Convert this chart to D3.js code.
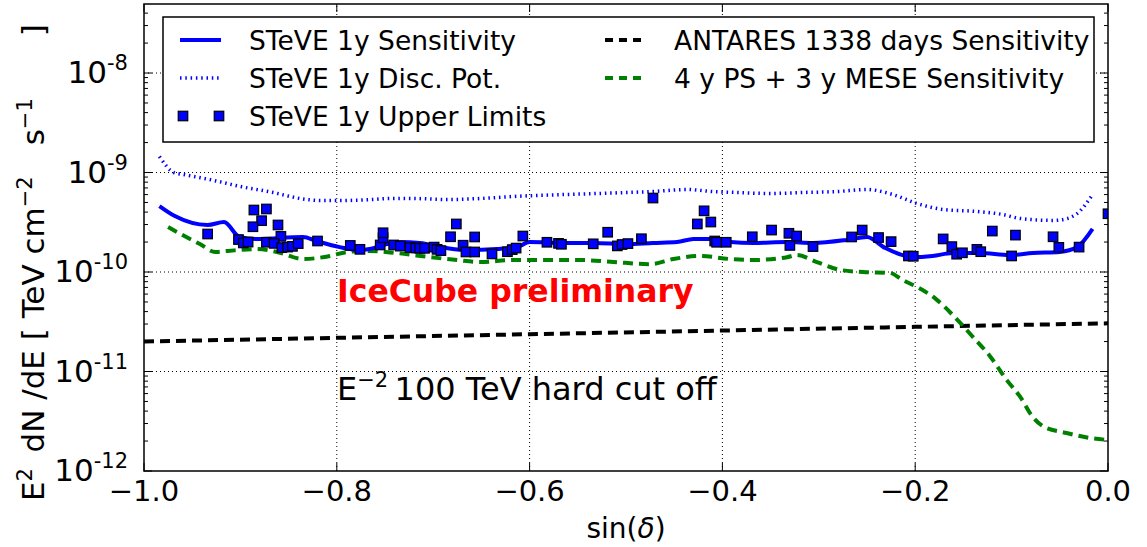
<!DOCTYPE html>
<html>
<head>
<meta charset="utf-8">
<script src="https://cdn.jsdelivr.net/npm/d3@7"></script>
<style>
  body { margin: 0; background: #fff; }
  svg { font-family: "DejaVu Sans", sans-serif; }
</style>
</head>
<body>
<div id="chart"></div>
<script>
// STeVE 1y sensitivity [sin(dec), E^2 dN/dE]
const sensitivity = [
  [-0.984, 4.6e-10], [-0.968, 3.65e-10], [-0.934, 2.97e-10], [-0.917, 3.18e-10], [-0.901, 2.25e-10],
  [-0.883, 2.15e-10], [-0.835, 2.25e-10], [-0.821, 2.05e-10], [-0.797, 1.78e-10], [-0.776, 1.66e-10],
  [-0.766, 1.70e-10], [-0.748, 1.91e-10], [-0.734, 2.00e-10], [-0.714, 1.96e-10], [-0.686, 1.74e-10],
  [-0.665, 1.66e-10], [-0.634, 1.70e-10], [-0.613, 1.78e-10], [-0.600, 2.00e-10], [-0.565, 1.96e-10],
  [-0.534, 1.96e-10], [-0.499, 1.91e-10], [-0.472, 1.96e-10], [-0.447, 2.00e-10], [-0.430, 2.15e-10],
  [-0.410, 2.15e-10], [-0.392, 2.00e-10], [-0.368, 1.96e-10], [-0.333, 2.00e-10], [-0.306, 1.96e-10],
  [-0.271, 2.10e-10], [-0.250, 2.25e-10], [-0.231, 1.74e-10], [-0.202, 1.41e-10], [-0.182, 1.45e-10],
  [-0.161, 1.55e-10], [-0.133, 1.55e-10], [-0.102, 1.48e-10], [-0.078, 1.55e-10], [-0.050, 1.59e-10],
  [-0.032, 1.78e-10], [-0.016, 2.71e-10]
];

// STeVE 1y discovery potential
const discPot = [
  [-0.984, 1.45e-9], [-0.969, 1.0e-9], [-0.959, 0.955e-9], [-0.927, 0.83e-9], [-0.899, 0.72e-9],
  [-0.866, 0.63e-9], [-0.838, 0.548e-9], [-0.817, 0.523e-9], [-0.797, 0.523e-9], [-0.763, 0.535e-9],
  [-0.745, 0.548e-9], [-0.721, 0.548e-9], [-0.686, 0.535e-9], [-0.651, 0.548e-9], [-0.617, 0.574e-9],
  [-0.565, 0.60e-9], [-0.530, 0.615e-9], [-0.499, 0.63e-9], [-0.473, 0.644e-9], [-0.437, 0.675e-9],
  [-0.410, 0.644e-9], [-0.385, 0.63e-9], [-0.351, 0.615e-9], [-0.316, 0.63e-9], [-0.281, 0.644e-9],
  [-0.250, 0.675e-9], [-0.223, 0.60e-9], [-0.198, 0.488e-9], [-0.171, 0.425e-9], [-0.136, 0.406e-9],
  [-0.109, 0.378e-9], [-0.091, 0.345e-9], [-0.057, 0.33e-9], [-0.042, 0.345e-9], [-0.032, 0.387e-9],
  [-0.016, 0.60e-9]
];

// STeVE 1y upper limits (per source)
const upperLimits = [
  [-0.934, 2.41e-10], [-0.886, 4.20e-10], [-0.873, 4.30e-10], [-0.878, 3.28e-10], [-0.887, 2.85e-10],
  [-0.861, 2.97e-10], [-0.858, 2.28e-10], [-0.902, 2.12e-10], [-0.897, 1.96e-10], [-0.892, 2.00e-10],
  [-0.873, 1.99e-10], [-0.865, 1.94e-10], [-0.857, 1.76e-10], [-0.851, 1.78e-10], [-0.846, 1.81e-10],
  [-0.840, 1.93e-10], [-0.820, 2.05e-10], [-0.786, 1.85e-10], [-0.776, 1.69e-10], [-0.755, 1.87e-10],
  [-0.752, 2.21e-10], [-0.752, 2.48e-10], [-0.741, 1.87e-10], [-0.734, 1.82e-10], [-0.724, 1.76e-10],
  [-0.718, 1.74e-10], [-0.714, 1.73e-10], [-0.709, 1.73e-10], [-0.699, 1.78e-10], [-0.696, 1.69e-10],
  [-0.692, 1.64e-10], [-0.682, 2.26e-10], [-0.676, 3.04e-10], [-0.669, 1.86e-10], [-0.666, 1.59e-10],
  [-0.657, 1.59e-10], [-0.657, 2.25e-10], [-0.639, 1.52e-10], [-0.623, 1.60e-10], [-0.618, 1.68e-10],
  [-0.614, 1.74e-10], [-0.607, 2.30e-10], [-0.582, 1.99e-10], [-0.570, 1.94e-10], [-0.567, 1.90e-10],
  [-0.534, 1.92e-10], [-0.519, 2.51e-10], [-0.509, 1.83e-10], [-0.504, 1.89e-10], [-0.498, 1.93e-10],
  [-0.484, 2.16e-10], [-0.472, 5.54e-10], [-0.426, 3.04e-10], [-0.419, 4.12e-10], [-0.412, 3.18e-10],
  [-0.408, 2.05e-10], [-0.406, 1.99e-10], [-0.396, 1.99e-10], [-0.369, 2.26e-10], [-0.349, 2.64e-10],
  [-0.331, 2.45e-10], [-0.330, 1.85e-10], [-0.323, 2.30e-10], [-0.306, 1.80e-10], [-0.266, 2.25e-10],
  [-0.255, 2.64e-10], [-0.238, 2.22e-10], [-0.225, 2.02e-10], [-0.207, 1.45e-10], [-0.202, 1.44e-10],
  [-0.171, 2.15e-10], [-0.162, 1.80e-10], [-0.157, 1.51e-10], [-0.151, 1.56e-10], [-0.136, 1.69e-10],
  [-0.132, 1.60e-10], [-0.120, 2.58e-10], [-0.100, 1.45e-10], [-0.096, 2.35e-10], [-0.057, 2.26e-10],
  [-0.051, 1.77e-10], [-0.030, 1.78e-10], [0.000, 3.85e-10]
];

// ANTARES 1338 days sensitivity
const antares = [
  [-1.0, 2.0e-11], [-0.8, 2.18e-11], [-0.6, 2.37e-11], [-0.4, 2.58e-11], [-0.2, 2.81e-11], [0.0, 3.05e-11]
];

// 4 y PS + 3 y MESE sensitivity
const psMese = [
  [-0.975, 2.83e-10], [-0.960, 2.35e-10], [-0.942, 1.91e-10], [-0.926, 1.59e-10], [-0.913, 1.63e-10],
  [-0.883, 1.70e-10], [-0.862, 1.59e-10], [-0.835, 1.35e-10], [-0.807, 1.45e-10], [-0.789, 1.59e-10],
  [-0.766, 1.63e-10], [-0.738, 1.55e-10], [-0.703, 1.41e-10], [-0.675, 1.32e-10], [-0.651, 1.26e-10],
  [-0.617, 1.32e-10], [-0.582, 1.32e-10], [-0.548, 1.32e-10], [-0.513, 1.26e-10], [-0.475, 1.20e-10],
  [-0.451, 1.35e-10], [-0.423, 1.45e-10], [-0.392, 1.35e-10], [-0.368, 1.32e-10], [-0.333, 1.41e-10],
  [-0.323, 1.48e-10], [-0.302, 1.26e-10], [-0.278, 1.05e-10], [-0.254, 1.0e-10], [-0.226, 0.977e-10],
  [-0.213, 0.83e-10], [-0.198, 0.707e-10], [-0.179, 0.54e-10], [-0.159, 0.353e-10], [-0.140, 0.222e-10],
  [-0.122, 1.41e-11], [-0.105, 0.82e-11], [-0.091, 0.555e-11], [-0.078, 0.349e-11], [-0.067, 0.28e-11],
  [-0.043, 0.241e-11], [-0.019, 0.215e-11], [0.000, 0.205e-11]
];

const xTicks = [-1.0, -0.8, -0.6, -0.4, -0.2, 0.0];
const yTickExp = [-12, -11, -10, -9, -8];

const width = 1147, height = 547;
const margin = { top: 4, right: 39, bottom: 76, left: 144 };

const svg = d3.select("#chart").append("svg")
  .attr("width", width)
  .attr("height", height);

const x = d3.scaleLinear()
  .domain([-1, 0])
  .range([margin.left, width - margin.right]);

const y = d3.scaleLog()
  .domain([1e-12, 4.94e-8])
  .range([height - margin.bottom, margin.top]);

const x0 = x.range()[0], x1 = x.range()[1];
const y0 = y.range()[0], y1 = y.range()[1];

svg.append("clipPath").attr("id", "plot-clip")
  .append("rect")
  .attr("x", x0).attr("y", y1)
  .attr("width", x1 - x0).attr("height", y0 - y1);

// grid
const grid = svg.append("g")
  .attr("stroke", "#000")
  .attr("stroke-width", 1)
  .attr("stroke-dasharray", "1,3");
grid.selectAll(".gx").data(xTicks.slice(1, -1)).enter().append("line")
  .attr("x1", d => x(d)).attr("x2", d => x(d))
  .attr("y1", y0).attr("y2", y1);
grid.selectAll(".gy").data(yTickExp.slice(1)).enter().append("line")
  .attr("x1", x0).attr("x2", x1)
  .attr("y1", d => y(Math.pow(10, d))).attr("y2", d => y(Math.pow(10, d)));

// ticks, inward on all four sides
const minorVals = [];
for (let e = -12; e <= -8; e++) {
  for (let m = 2; m <= 9; m++) {
    const v = m * Math.pow(10, e);
    if (v < y.domain()[1]) minorVals.push(v);
  }
}
const ticks = svg.append("g").attr("stroke", "#000").attr("stroke-width", 1);
[x0, x1].forEach((xe, i) => {
  const dir = i === 0 ? 1 : -1;
  ticks.selectAll(null).data(yTickExp).enter().append("line")
    .attr("x1", xe).attr("x2", xe + dir * 8)
    .attr("y1", d => y(Math.pow(10, d))).attr("y2", d => y(Math.pow(10, d)));
  ticks.selectAll(null).data(minorVals).enter().append("line")
    .attr("x1", xe).attr("x2", xe + dir * 4)
    .attr("y1", d => y(d)).attr("y2", d => y(d));
});
[y0, y1].forEach((ye, i) => {
  const dir = i === 0 ? -1 : 1;
  ticks.selectAll(null).data(xTicks).enter().append("line")
    .attr("x1", d => x(d)).attr("x2", d => x(d))
    .attr("y1", ye).attr("y2", ye + dir * 8);
});

// tick labels
svg.append("g").selectAll("text").data(xTicks).enter().append("text")
  .attr("x", d => x(d))
  .attr("y", y0 + 30)
  .attr("text-anchor", "middle")
  .attr("font-size", 29)
  .text(d => d3.format(".1f")(d).replace("-", "\u2212"));

const yLab = svg.append("g").selectAll("text").data(yTickExp).enter().append("text")
  .attr("x", x0 - 16)
  .attr("y", d => y(Math.pow(10, d)) + 10)
  .attr("text-anchor", "end")
  .attr("font-size", 31);
yLab.append("tspan").text("10");
yLab.append("tspan").attr("dy", -13).attr("font-size", 21).text(d => String(d));

// lines
const line = d3.line()
  .x(d => x(d[0]))
  .y(d => y(d[1]))
  .curve(d3.curveMonotoneX);

const plot = svg.append("g").attr("clip-path", "url(#plot-clip)");

plot.append("path").datum(antares)
  .attr("fill", "none").attr("stroke", "#000")
  .attr("stroke-width", 4).attr("stroke-dasharray", "10,6")
  .attr("d", line);

plot.append("path").datum(psMese)
  .attr("fill", "none").attr("stroke", "#008000")
  .attr("stroke-width", 4).attr("stroke-dasharray", "10,6")
  .attr("d", line);

plot.append("path").datum(discPot)
  .attr("fill", "none").attr("stroke", "#0000ff")
  .attr("stroke-width", 3.5).attr("stroke-dasharray", "1.5,3.8")
  .attr("d", line);

plot.append("path").datum(sensitivity)
  .attr("fill", "none").attr("stroke", "#0000ff")
  .attr("stroke-width", 4).attr("stroke-linejoin", "round")
  .attr("d", line);

const sq = 9.5;
plot.append("g").selectAll("rect").data(upperLimits).enter().append("rect")
  .attr("x", d => x(d[0]) - sq / 2)
  .attr("y", d => y(d[1]) - sq / 2)
  .attr("width", sq).attr("height", sq)
  .attr("fill", "#0000ff")
  .attr("stroke", "#000").attr("stroke-width", 1.2);

// frame
svg.append("rect")
  .attr("x", x0).attr("y", y1)
  .attr("width", x1 - x0).attr("height", y0 - y1)
  .attr("fill", "none").attr("stroke", "#000").attr("stroke-width", 1.5);

// annotations
svg.append("text")
  .attr("x", 337).attr("y", 302)
  .attr("font-size", 31.5).attr("font-weight", "bold")
  .attr("fill", "#ff0000")
  .text("IceCube preliminary");

const cut = svg.append("text")
  .attr("x", 337).attr("y", 400)
  .attr("font-size", 32);
cut.append("tspan").text("E");
cut.append("tspan").attr("dy", -13).attr("font-size", 21).text("\u22122");
cut.append("tspan").attr("dy", 13).text("\u2009100 TeV hard cut off");

// axis labels
const xl = svg.append("text")
  .attr("x", (x0 + x1) / 2).attr("y", 538)
  .attr("text-anchor", "middle")
  .attr("font-size", 28);
xl.append("tspan").text("sin(");
xl.append("tspan").attr("font-style", "italic").text("\u03b4");
xl.append("tspan").text(")");

const yl = svg.append("text")
  .attr("transform", `translate(44, 501) rotate(-90)`)
  .attr("text-anchor", "start")
  .attr("font-size", 31);
yl.append("tspan").text("E");
yl.append("tspan").attr("dy", -12).attr("font-size", 21).text("2");
yl.append("tspan").attr("dy", 12).text("\u2002dN /dE [ TeV cm");
yl.append("tspan").attr("dy", -12).attr("font-size", 21).text("\u22122");
yl.append("tspan").attr("dy", 12).text("\u2003s");
yl.append("tspan").attr("dy", -12).attr("font-size", 21).text("\u22121");
yl.append("tspan").attr("dy", 12).text("\u2003\u2003]");

// legend
const legendCols = [
  [
    { label: "STeVE 1y Sensitivity", kind: "solid", color: "#0000ff" },
    { label: "STeVE 1y Disc. Pot.", kind: "dot", color: "#0000ff" },
    { label: "STeVE 1y Upper Limits", kind: "square", color: "#0000ff" }
  ],
  [
    { label: "ANTARES 1338 days Sensitivity", kind: "dash", color: "#000" },
    { label: "4 y PS + 3 y MESE Sensitivity", kind: "dash", color: "#008000" }
  ]
];

const legend = svg.append("g");
legend.append("rect")
  .attr("x", 163).attr("y", 17)
  .attr("width", 931).attr("height", 125)
  .attr("fill", "#fff").attr("stroke", "#000").attr("stroke-width", 1.5);

const colX = [180, 605];
legendCols.forEach((col, ci) => {
  col.forEach((item, ri) => {
    const ly = 40 + ri * 38;
    const hx = colX[ci];
    if (item.kind === "square") {
      [hx + 3, hx + 39].forEach(cx => {
        legend.append("rect")
          .attr("x", cx - sq / 2).attr("y", ly - sq / 2)
          .attr("width", sq).attr("height", sq)
          .attr("fill", item.color).attr("stroke", "#000").attr("stroke-width", 1.2);
      });
    } else {
      legend.append("line")
        .attr("x1", hx).attr("x2", hx + 41)
        .attr("y1", ly).attr("y2", ly)
        .attr("stroke", item.color)
        .attr("stroke-width", item.kind === "dot" ? 3.5 : 4)
        .attr("stroke-dasharray", item.kind === "dot" ? "1.5,3.8" : item.kind === "dash" ? "8,6" : null);
    }
    legend.append("text")
      .attr("x", hx + 69).attr("y", ly + 10)
      .attr("font-size", 26.5)
      .text(item.label);
  });
});
</script>
</body>
</html>
